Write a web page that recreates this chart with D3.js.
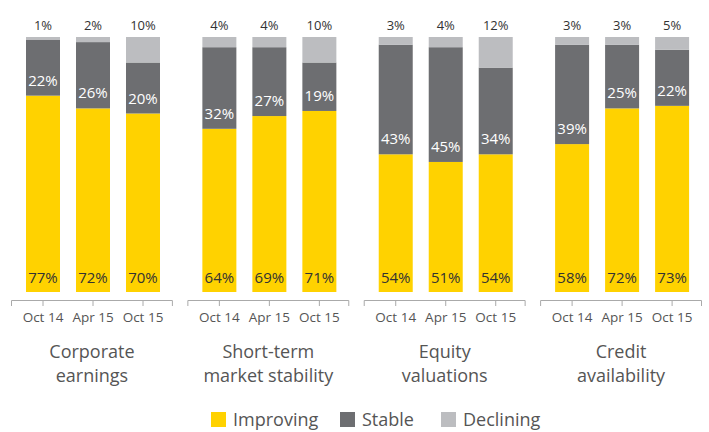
<!DOCTYPE html>
<html>
<head>
<meta charset="utf-8">
<script src="https://cdn.jsdelivr.net/npm/d3@7"></script>
<style>
body { margin: 0; background: #fff; }
text { font-family: "Open Sans", "DejaVu Sans", sans-serif; }
</style>
</head>
<body>
<script>
// chart data
var groups = ["Corporate earnings", "Short-term market stability", "Equity valuations", "Credit availability"];
var groupLines = [["Corporate", "earnings"], ["Short-term", "market stability"], ["Equity", "valuations"], ["Credit", "availability"]];
var periods = ["Oct 14", "Apr 15", "Oct 15"];
var improving = [[77, 72, 70], [64, 69, 71], [54, 51, 54], [58, 72, 73]];
var stable = [[22, 26, 20], [32, 27, 19], [43, 45, 34], [39, 25, 22]];
var declining = [[1, 2, 10], [4, 4, 10], [3, 4, 12], [3, 3, 5]];
var seriesNames = ["Improving", "Stable", "Declining"];
var colors = ["#FFD200", "#6D6E71", "#BCBDC0"];

var width = 709, height = 432;

var svg = d3.select("body").append("svg")
	.attr("width", width)
	.attr("height", height);

var x0 = d3.scaleBand()
	.domain(groups)
	.range([11, 702])
	.paddingInner(0.082);

var x1 = d3.scaleBand()
	.domain(periods)
	.range([15, 149])
	.paddingInner(0.32);

var y = d3.scaleLinear()
	.domain([0, 100])
	.range([292, 37]);

groups.forEach(function(g, gi) {
	var gx = x0(g);
	var grp = svg.append("g").attr("transform", "translate(" + gx + ",0)");

	periods.forEach(function(p, pi) {
		var vals = [improving[gi][pi], stable[gi][pi], declining[gi][pi]];
		var base = 0;
		vals.forEach(function(v, si) {
			grp.append("rect")
				.attr("x", x1(p))
				.attr("width", x1.bandwidth())
				.attr("y", y(base + v))
				.attr("height", y(base) - y(base + v))
				.attr("fill", colors[si]);

			var cx = x1(p) + x1.bandwidth() / 2;
			if (si == 0) {
				grp.append("text")
					.attr("x", cx)
					.attr("y", y(base) - 9)
					.attr("text-anchor", "middle")
					.attr("font-size", 15)
					.attr("fill", "#333")
					.text(v + "%");
			} else if (si == 1) {
				grp.append("text")
					.attr("x", cx)
					.attr("y", y(base) - 10)
					.attr("text-anchor", "middle")
					.attr("font-size", 15)
					.attr("fill", "#fff")
					.text(v + "%");
			} else {
				grp.append("text")
					.attr("x", cx)
					.attr("y", y(base + v) - 7)
					.attr("text-anchor", "middle")
					.attr("font-size", 13)
					.attr("fill", "#333")
					.text(v + "%");
			}
			base += v;
		});
	});

	// axis
	var axis = d3.axisBottom(x1).tickSize(6).tickSizeOuter(6).tickPadding(6);
	var ag = grp.append("g")
		.attr("transform", "translate(0,300)")
		.call(axis);
	ag.select(".domain")
		.attr("d", "M0.5,6V0.5H" + (x0.bandwidth() - 0.5) + "V6")
		.attr("stroke", "#aaa");
	ag.selectAll(".tick line").attr("stroke", "#aaa");
	ag.selectAll(".tick text")
		.attr("font-size", 13.5)
		.attr("fill", "#555")
		.style("font-family", "'Open Sans', sans-serif");

	// group title
	groupLines[gi].forEach(function(line, li) {
		grp.append("text")
			.attr("x", x0.bandwidth() / 2)
			.attr("y", 358 + li * 24)
			.attr("text-anchor", "middle")
			.attr("font-size", 18)
			.attr("fill", "#555")
			.text(line);
	});
});

// legend
var legendX = [211, 340, 441];
var legend = svg.append("g");
seriesNames.forEach(function(s, i) {
	legend.append("rect")
		.attr("x", legendX[i])
		.attr("y", 412)
		.attr("width", 15)
		.attr("height", 15)
		.attr("fill", colors[i]);
	legend.append("text")
		.attr("x", legendX[i] + 22)
		.attr("y", 426)
		.attr("font-size", 18)
		.attr("fill", "#555")
		.text(s);
});
</script>
</body>
</html>
